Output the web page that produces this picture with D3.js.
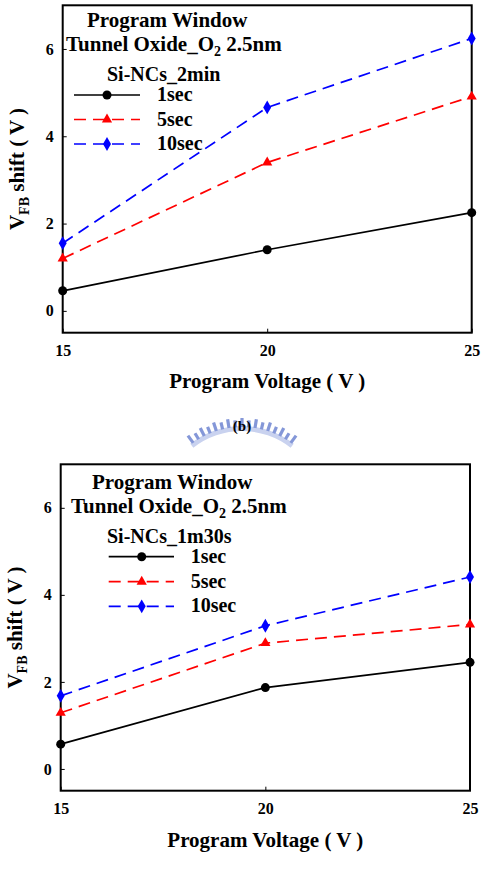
<!DOCTYPE html>
<html>
<head>
<meta charset="utf-8">
<script src="https://cdn.jsdelivr.net/npm/d3@7"></script>
<style>
  body { margin: 0; background: #fff; }
</style>
</head>
<body>
<svg id="chart" width="488" height="875"></svg>
<script>
const voltages = [15, 20, 25];
const xTicks = [15, 20, 25];
const yTicks = [0, 2, 4, 6];
const seriesNames = ['1sec', '5sec', '10sec'];

// panel (a): Si-NCs_2min
const top1sec = [0.46, 1.40, 2.25];
const top5sec = [1.20, 3.40, 4.91];
const top10sec = [1.55, 4.66, 6.24];

// panel (b): Si-NCs_1m30s
const bottom1sec = [0.57, 1.87, 2.45];
const bottom5sec = [1.29, 2.89, 3.32];
const bottom10sec = [1.68, 3.29, 4.41];

const FONT = 'Liberation Serif';

const seriesStyles = [
  { color: '#000', dash: null, marker: 'circle' },
  { color: '#f00', dash: '12,7', marker: 'triangle' },
  { color: '#00f', dash: '12,7', marker: 'diamond' },
];

const svg = d3.select('#chart');

drawWatermark(242, 431);

drawPanel({
  left: 62.7, right: 471.7, top: 5.3, bottom: 332.7,
  series: [top1sec, top5sec, top10sec],
  sample: 'Si-NCs_2min',
  titleX: [87, 66, 107],
  titleY: [27.3, 50.7, 81],
  legend: { x1: 74, x2: 140, mx: 107, tx: 157, rows: [95, 119.5, 144] },
  xTitleY: 388,
  yTitleX: 24,
});

drawPanel({
  left: 60.7, right: 470, top: 464.3, bottom: 790.7,
  series: [bottom1sec, bottom5sec, bottom10sec],
  sample: 'Si-NCs_1m30s',
  titleX: [92, 71, 107],
  titleY: [489.3, 512.7, 542.7],
  legend: { x1: 108.7, x2: 174, mx: 141.7, tx: 190.7, rows: [556.7, 581.7, 606.3] },
  xTitleY: 846.7,
  yTitleX: 22,
});

function label(sel, size) {
  return sel
    .attr('font-family', FONT)
    .attr('font-weight', 'bold')
    .attr('font-size', size)
    .attr('fill', '#000');
}

function drawPanel(cfg) {
  const x = d3.scaleLinear().domain([15, 25]).range([cfg.left, cfg.right]);
  const y = d3.scaleLinear().domain([-0.5, 7]).range([cfg.bottom, cfg.top]);
  const g = svg.append('g');

  g.append('g')
    .attr('transform', `translate(0,${cfg.bottom})`)
    .call(d3.axisBottom(x).tickValues(xTicks).tickSizeInner(-4).tickSizeOuter(0).tickPadding(12))
    .call((a) => a.select('.domain').remove())
    .call((a) => a.selectAll('line').attr('stroke', '#000').attr('stroke-width', 1))
    .call((a) => label(a.selectAll('text'), 16));

  g.append('g')
    .attr('transform', `translate(${cfg.left},0)`)
    .call(d3.axisLeft(y).tickValues(yTicks).tickSizeInner(-4).tickSizeOuter(0).tickPadding(9))
    .call((a) => a.select('.domain').remove())
    .call((a) => a.selectAll('line').attr('stroke', '#000').attr('stroke-width', 1))
    .call((a) => label(a.selectAll('text'), 16));

  g.append('rect')
    .attr('x', cfg.left).attr('y', cfg.top)
    .attr('width', cfg.right - cfg.left).attr('height', cfg.bottom - cfg.top)
    .attr('fill', 'none').attr('stroke', '#000').attr('stroke-width', 2);

  const line = d3.line().x((d, i) => x(voltages[i])).y((d) => y(d));

  cfg.series.forEach((values, i) => {
    const st = seriesStyles[i];
    g.append('path')
      .datum(values)
      .attr('d', line)
      .attr('fill', 'none')
      .attr('stroke', st.color)
      .attr('stroke-width', 1.7)
      .attr('stroke-dasharray', st.dash);
    values.forEach((v, j) => drawMarker(g, st, x(voltages[j]), y(v)));
  });

  // legend + annotation
  const lines = ['Program Window', 'Tunnel Oxide_O', cfg.sample];
  lines.forEach((t, i) => {
    const text = label(g.append('text'), i === 2 ? 20 : 21)
      .attr('x', cfg.titleX[i]).attr('y', cfg.titleY[i]);
    text.append('tspan').text(t);
    if (i === 1) {
      text.append('tspan').attr('dy', 5).attr('font-size', 14).text('2');
      text.append('tspan').attr('dy', -5).text(' 2.5nm');
    }
  });

  const lg = cfg.legend;
  seriesNames.forEach((name, i) => {
    const st = seriesStyles[i];
    const ry = lg.rows[i];
    g.append('line')
      .attr('x1', lg.x1).attr('x2', lg.x2).attr('y1', ry).attr('y2', ry)
      .attr('stroke', st.color).attr('stroke-width', 1.7)
      .attr('stroke-dasharray', st.dash);
    drawMarker(g, st, lg.mx, ry);
    label(g.append('text'), 20)
      .attr('x', lg.tx).attr('y', ry + 6)
      .text(name);
  });

  // axis titles
  label(g.append('text'), 21)
    .attr('x', (cfg.left + cfg.right) / 2).attr('y', cfg.xTitleY)
    .attr('text-anchor', 'middle')
    .text('Program Voltage ( V )');

  const yt = label(g.append('text'), 21)
    .attr('transform', `translate(${cfg.yTitleX},${(cfg.top + cfg.bottom) / 2}) rotate(-90)`)
    .attr('text-anchor', 'middle');
  yt.append('tspan').text('V');
  yt.append('tspan').attr('dy', 5).attr('font-size', 14).text('FB');
  yt.append('tspan').attr('dy', -5).text(' shift ( V )');
}

function drawMarker(g, st, cx, cy) {
  if (st.marker === 'circle') {
    g.append('circle').attr('cx', cx).attr('cy', cy).attr('r', 4.5).attr('fill', st.color);
  } else if (st.marker === 'triangle') {
    g.append('path')
      .attr('d', d3.symbol(d3.symbolTriangle, 45)())
      .attr('transform', `translate(${cx},${cy})`)
      .attr('fill', st.color);
  } else {
    g.append('path')
      .attr('d', d3.symbol(d3.symbolDiamond, 55)())
      .attr('transform', `translate(${cx},${cy})`)
      .attr('fill', st.color);
  }
}

function drawWatermark(cx, baseY) {
  // faint university logo behind the "(b)" caption
  const wm = svg.append('g');
  const R = 92;
  const center = [cx, baseY - 13 + R];
  const angles = d3.range(-36, 37, 4.5);
  const arc = d3.arc().innerRadius(R - 13).outerRadius(R - 8)
    .startAngle(-38 * Math.PI / 180).endAngle(38 * Math.PI / 180);
  wm.append('path')
    .attr('d', arc())
    .attr('transform', `translate(${center[0]},${center[1]})`)
    .attr('fill', '#c9d2ef');
  angles.forEach((a, i) => {
    const rad = (a - 90) * Math.PI / 180;
    const outer = R - (i % 2) * 2;
    wm.append('line')
      .attr('x1', center[0] + (R - 9) * Math.cos(rad))
      .attr('y1', center[1] + (R - 9) * Math.sin(rad))
      .attr('x2', center[0] + outer * Math.cos(rad))
      .attr('y2', center[1] + outer * Math.sin(rad))
      .attr('stroke', '#8497d8').attr('stroke-width', 3.2);
  });

  label(svg.append('text'), 15)
    .attr('x', cx).attr('y', baseY)
    .attr('text-anchor', 'middle')
    .text('(b)');
}
</script>
</body>
</html>
